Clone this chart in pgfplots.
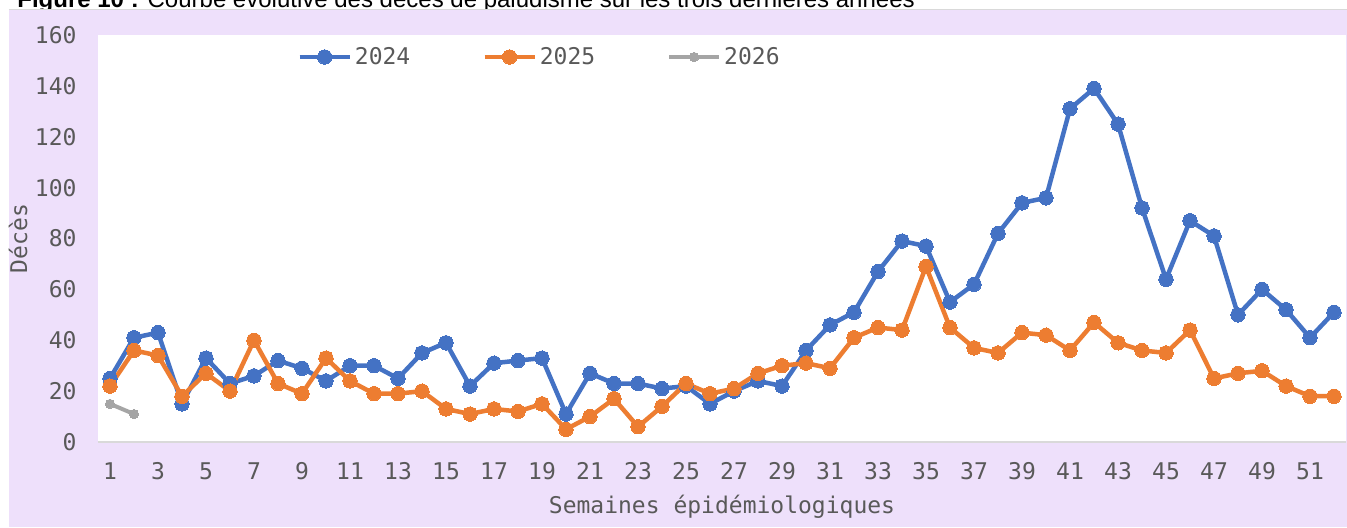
\documentclass[border=0pt]{standalone}
\usepackage{fontspec}
\setmainfont{DejaVu Sans Mono}
\newfontfamily\arialfont{Liberation Sans}
\usepackage{pgfplots}
\pgfplotsset{compat=1.18}
\definecolor{lav}{RGB}{238,224,251}
\definecolor{c24}{HTML}{4472C4}
\definecolor{c25}{HTML}{ED7D31}
\definecolor{c26}{HTML}{A5A5A5}
\definecolor{txt}{HTML}{595959}
\definecolor{axl}{HTML}{D9D9D9}
\begin{document}
\begin{tikzpicture}
\useasboundingbox (-49pt,-42.5pt) rectangle (624.5pt,221pt);
\node[anchor=base west, inner sep=0pt, font=\arialfont\fontsize{12}{14}\selectfont] at (-40.5pt,217.5pt) {\textbf{Figure 10 :} Courbe évolutive des décès de paludisme sur les trois dernières années};
\fill[lav] (-44.5pt,-42.5pt) rectangle (624.5pt,216.5pt);
\draw[axl, line width=0.5pt] (-44.5pt,216.5pt) -- (624.5pt,216.5pt);
\begin{axis}[
  at={(0,0)}, anchor=south west,
  scale only axis, width=624pt, height=203.5pt,
  xmin=0.5, xmax=52.5, ymin=0, ymax=160,
  xtick={1,3,...,51}, ytick={0,20,...,160},
  axis background/.style={fill=white},
  axis x line*=bottom, axis y line*=left,
  x axis line style={draw=axl, line width=1pt, -},
  y axis line style={draw=none},
  tick style={draw=none},
  /pgf/number format/assume math mode=true,
  tick label style={font=\fontsize{11.5}{13}\selectfont, text=txt},
  yticklabel style={xshift=-7.2pt},
  xticklabel style={yshift=-6.7pt},
  xlabel={Semaines épidémiologiques},
  ylabel={Décès},
  every axis x label/.style={at={(axis description cs:0.5,-0.1597)}, anchor=center, font=\fontsize{11.5}{13}\selectfont, text=txt},
  every axis y label/.style={at={(axis description cs:-0.0641,0.5)}, rotate=90, anchor=center, font=\fontsize{11.5}{13}\selectfont, text=txt},
  legend columns=3,
  legend cell align=left,
  legend style={at={(0.1595,0.946)}, anchor=west, draw=none, fill=none, inner sep=0pt,
    font=\fontsize{11.5}{13}\selectfont, text=txt, nodes={inner sep=1.5pt},
    /tikz/every even column/.append style={column sep=34.5pt}},
  legend image code/.code={\draw[mark repeat=2,mark phase=2,#1] plot coordinates {(0pt,0pt) (12.5pt,0pt) (25pt,0pt)};},
  line join=round,
]
\addplot[c24, line width=2.25pt, mark=*, mark size=3.6pt, mark options={fill=c24, draw=c24, line width=0pt}] coordinates {
(1,25) (2,41) (3,43) (4,15) (5,33) (6,23) (7,26) (8,32) (9,29) (10,24)
(11,30) (12,30) (13,25) (14,35) (15,39) (16,22) (17,31) (18,32) (19,33) (20,11)
(21,27) (22,23) (23,23) (24,21) (25,22) (26,15) (27,20) (28,24) (29,22) (30,36)
(31,46) (32,51) (33,67) (34,79) (35,77) (36,55) (37,62) (38,82) (39,94) (40,96)
(41,131) (42,139) (43,125) (44,92) (45,64) (46,87) (47,81) (48,50) (49,60) (50,52)
(51,41) (52,51)};
\addlegendentry{2024}
\addplot[c25, line width=2.25pt, mark=*, mark size=3.6pt, mark options={fill=c25, draw=c25, line width=0pt}] coordinates {
(1,22) (2,36) (3,34) (4,18) (5,27) (6,20) (7,40) (8,23) (9,19) (10,33)
(11,24) (12,19) (13,19) (14,20) (15,13) (16,11) (17,13) (18,12) (19,15) (20,5)
(21,10) (22,17) (23,6) (24,14) (25,23) (26,19) (27,21) (28,27) (29,30) (30,31)
(31,29) (32,41) (33,45) (34,44) (35,69) (36,45) (37,37) (38,35) (39,43) (40,42)
(41,36) (42,47) (43,39) (44,36) (45,35) (46,44) (47,25) (48,27) (49,28) (50,22)
(51,18) (52,18)};
\addlegendentry{2025}
\addplot[c26, line width=2pt, mark=*, mark size=2.3pt, mark options={fill=c26, draw=c26, line width=0pt}] coordinates {
(1,15) (2,11)};
\addlegendentry{2026}
\end{axis}
\end{tikzpicture}
\end{document}
